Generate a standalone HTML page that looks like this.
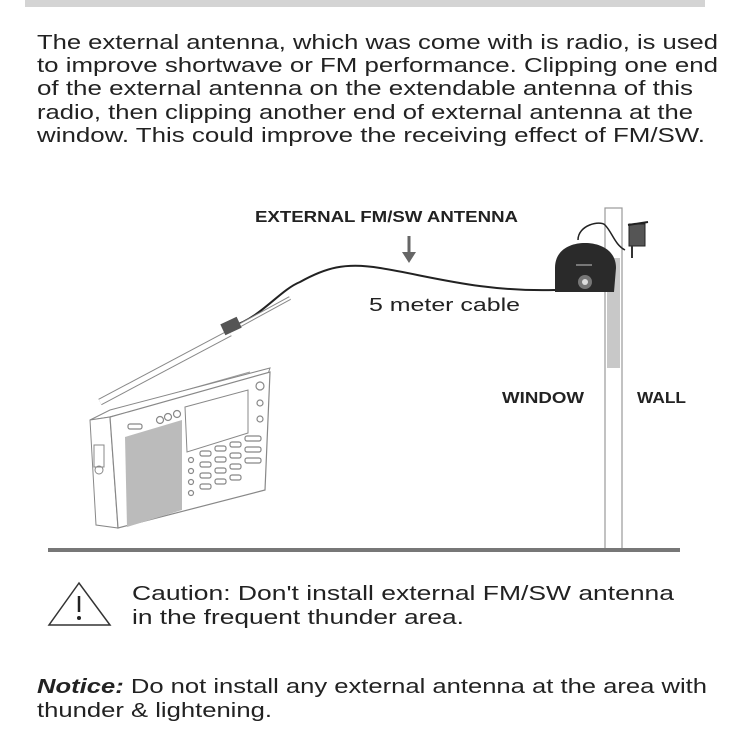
<!DOCTYPE html>
<html><head><meta charset="utf-8"><style>
html,body{margin:0;padding:0;background:#fff;}
svg{display:block;}
text{font-family:"Liberation Sans",Arial,sans-serif;fill:#222;}
</style></head><body>
<svg width="750" height="750" viewBox="0 0 750 750" xmlns="http://www.w3.org/2000/svg">
<rect x="25" y="0" width="680" height="7" fill="#d4d4d4"/>
<g font-size="20.5">
<text x="37" y="49" textLength="681" lengthAdjust="spacingAndGlyphs">The external antenna, which was come with is radio, is used</text>
<text x="37" y="72" textLength="681" lengthAdjust="spacingAndGlyphs">to improve shortwave or FM performance.  Clipping one end</text>
<text x="37" y="95" textLength="656" lengthAdjust="spacingAndGlyphs">of the external antenna on the extendable antenna of this</text>
<text x="37" y="119" textLength="656" lengthAdjust="spacingAndGlyphs">radio, then clipping another end of external antenna at the</text>
<text x="37" y="142" textLength="668" lengthAdjust="spacingAndGlyphs">window.  This could improve the receiving effect of FM/SW.</text>
</g>
<!-- diagram -->
<text x="255" y="222" font-size="16" font-weight="bold" textLength="263" lengthAdjust="spacingAndGlyphs" fill="#333">EXTERNAL FM/SW ANTENNA</text>
<line x1="409" y1="236" x2="409" y2="254" stroke="#666" stroke-width="3"/>
<polygon points="402,252 416,252 409,263" fill="#666"/>
<text x="369" y="311" font-size="18.5" textLength="151" lengthAdjust="spacingAndGlyphs" fill="#111">5 meter cable</text>
<!-- wall post -->
<rect x="605" y="208" width="17" height="343" fill="#fff" stroke="#999" stroke-width="1.2"/>
<rect x="607" y="258" width="13" height="110" fill="#c8c8c8"/>
<!-- adapter -->
<path d="M578 240 C578 225 600 220 605 225 C612 232 615 245 625 250" fill="none" stroke="#222" stroke-width="1.5"/>
<rect x="629" y="224" width="16" height="22" fill="#555" stroke="#222"/>
<line x1="628" y1="225" x2="648" y2="222" stroke="#222" stroke-width="2"/>
<line x1="632" y1="246" x2="632" y2="258" stroke="#333" stroke-width="2"/>
<!-- antenna dome -->
<path d="M555 292 L555 268 C555 250 570 243 585 243 C600 243 616 250 616 268 L614 292 Z" fill="#2a2a2a"/>
<circle cx="585" cy="282" r="7" fill="#777"/>
<circle cx="585" cy="282" r="3" fill="#ddd"/>
<rect x="576" y="264" width="16" height="2" fill="#777"/>
<!-- cable -->
<path d="M233 326 C260 318 280 290 300 282 C325 268 345 262 380 268 C430 276 480 292 555 290" fill="none" stroke="#222" stroke-width="2"/>
<!-- labels -->
<text x="502" y="403" font-size="16" font-weight="bold" textLength="82" lengthAdjust="spacingAndGlyphs" fill="#333">WINDOW</text>
<text x="637" y="403" font-size="16" font-weight="bold" textLength="49" lengthAdjust="spacingAndGlyphs" fill="#333">WALL</text>
<!-- ground -->
<rect x="48" y="548" width="632" height="4" fill="#777"/>
<!-- radio antenna -->
<line x1="100" y1="402" x2="230" y2="333" stroke="#888" stroke-width="7"/>
<line x1="100" y1="402" x2="230" y2="333" stroke="#fff" stroke-width="5"/>
<line x1="235" y1="328" x2="290" y2="298" stroke="#888" stroke-width="4"/>
<line x1="235" y1="328" x2="290" y2="298" stroke="#fff" stroke-width="2"/>
<rect x="222" y="320" width="18" height="12" fill="#555" transform="rotate(-25 231 326)"/>
<line x1="115" y1="410" x2="250" y2="372" stroke="#999" stroke-width="1"/>
<!-- radio body -->
<polygon points="90,420 110,410 270,368 268,374 110,417" fill="#fff" stroke="#888"/>
<polygon points="90,420 110,417 118,528 96,525" fill="#fff" stroke="#888"/>
<polygon points="110,417 270,372 265,490 118,528" fill="#fff" stroke="#888" stroke-width="1.2"/>
<rect x="94" y="445" width="10" height="22" fill="#fff" stroke="#888"/>
<circle cx="99" cy="470" r="4" fill="none" stroke="#888"/>
<polygon points="125,437 182,420 182,510 127,527" fill="#bbb"/>
<polygon points="185,407 248,390 248,433 187,452" fill="#fff" stroke="#888"/>
<g fill="none" stroke="#888" stroke-width="1.2">
<circle cx="160" cy="420" r="3.5"/><circle cx="168" cy="417" r="3.5"/><circle cx="177" cy="414" r="3.5"/>
<rect x="128" y="424" width="14" height="5" rx="2"/>
<circle cx="260" cy="386" r="4"/><circle cx="260" cy="403" r="3"/><circle cx="260" cy="419" r="3"/>
<g>
<rect x="200" y="451" width="11" height="5" rx="2"/><rect x="215" y="446" width="11" height="5" rx="2"/><rect x="230" y="442" width="11" height="5" rx="2"/><rect x="245" y="436" width="16" height="5" rx="2"/>
<rect x="200" y="462" width="11" height="5" rx="2"/><rect x="215" y="457" width="11" height="5" rx="2"/><rect x="230" y="453" width="11" height="5" rx="2"/><rect x="245" y="447" width="16" height="5" rx="2"/>
<rect x="200" y="473" width="11" height="5" rx="2"/><rect x="215" y="468" width="11" height="5" rx="2"/><rect x="230" y="464" width="11" height="5" rx="2"/><rect x="245" y="458" width="16" height="5" rx="2"/>
<rect x="200" y="484" width="11" height="5" rx="2"/><rect x="215" y="479" width="11" height="5" rx="2"/><rect x="230" y="475" width="11" height="5" rx="2"/>
<circle cx="191" cy="460" r="2.5"/><circle cx="191" cy="471" r="2.5"/><circle cx="191" cy="482" r="2.5"/><circle cx="191" cy="493" r="2.5"/>
</g>
</g>
<!-- caution -->
<polygon points="79,583 49,625 110,625" fill="none" stroke="#333" stroke-width="1.5"/>
<line x1="79" y1="596" x2="79" y2="612" stroke="#222" stroke-width="2.5"/>
<circle cx="79" cy="618" r="2" fill="#222"/>
<g font-size="20.5">
<text x="132" y="600" textLength="542" lengthAdjust="spacingAndGlyphs">Caution: Don't install external FM/SW antenna</text>
<text x="132" y="624" textLength="332" lengthAdjust="spacingAndGlyphs">in the frequent thunder area.</text>
<text x="37" y="693" textLength="670" lengthAdjust="spacingAndGlyphs"><tspan font-weight="bold" font-style="italic">Notice:</tspan> Do not install any external antenna at the area with</text>
<text x="37" y="717" textLength="235" lengthAdjust="spacingAndGlyphs">thunder &amp; lightening.</text>
</g>
</svg>
</body></html>
